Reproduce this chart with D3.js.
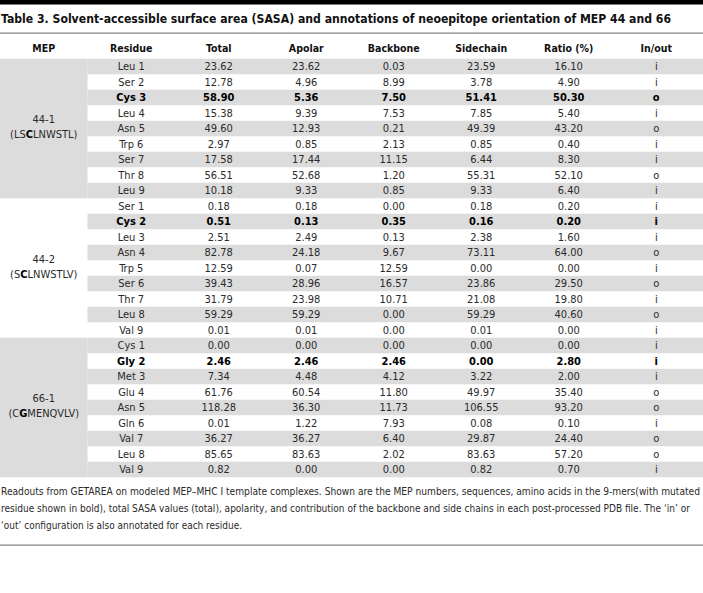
<!DOCTYPE html>
<html><head><meta charset="utf-8">
<script src="https://cdn.jsdelivr.net/npm/d3@7"></script>
<style>
html,body{margin:0;padding:0;background:#fff;}
svg{display:block;}
text{font-family:"Liberation Sans Narrow","DejaVu Sans Condensed","Roboto",sans-serif;}
</style></head>
<body>
<svg id="c" width="703" height="593"></svg>
<script>
const title = "Table 3. Solvent-accessible surface area (SASA) and annotations of neoepitope orientation of MEP 44 and 66";
const headers = ["MEP","Residue","Total","Apolar","Backbone","Sidechain","Ratio (%)","In/out"];
const groups = ["44-1","44-2","66-1"];
const sequences = ["LSCLNWSTL","SCLNWSTLV","CGMENQVLV"];
const mutatedIndex = [2,1,1];
const residues = [
  "Leu 1","Ser 2","Cys 3","Leu 4","Asn 5","Trp 6","Ser 7","Thr 8","Leu 9",
  "Ser 1","Cys 2","Leu 3","Asn 4","Trp 5","Ser 6","Thr 7","Leu 8","Val 9",
  "Cys 1","Gly 2","Met 3","Glu 4","Asn 5","Gln 6","Val 7","Leu 8","Val 9"];
const total = [23.62,12.78,58.90,15.38,49.60,2.97,17.58,56.51,10.18,
  0.18,0.51,2.51,82.78,12.59,39.43,31.79,59.29,0.01,
  0.00,2.46,7.34,61.76,118.28,0.01,36.27,85.65,0.82];
const apolar = [23.62,4.96,5.36,9.39,12.93,0.85,17.44,52.68,9.33,
  0.18,0.13,2.49,24.18,0.07,28.96,23.98,59.29,0.01,
  0.00,2.46,4.48,60.54,36.30,1.22,36.27,83.63,0.00];
const backbone = [0.03,8.99,7.50,7.53,0.21,2.13,11.15,1.20,0.85,
  0.00,0.35,0.13,9.67,12.59,16.57,10.71,0.00,0.00,
  0.00,2.46,4.12,11.80,11.73,7.93,6.40,2.02,0.00];
const sidechain = [23.59,3.78,51.41,7.85,49.39,0.85,6.44,55.31,9.33,
  0.18,0.16,2.38,73.11,0.00,23.86,21.08,59.29,0.01,
  0.00,0.00,3.22,49.97,106.55,0.08,29.87,83.63,0.82];
const ratio = [16.10,4.90,50.30,5.40,43.20,0.40,8.30,52.10,6.40,
  0.20,0.20,1.60,64.00,0.00,29.50,19.80,40.60,0.00,
  0.00,2.80,2.00,35.40,93.20,0.10,24.40,57.20,0.70];
const inout = ["i","i","o","i","o","i","i","o","i",
  "i","i","i","o","i","o","i","o","i",
  "i","i","i","o","o","i","o","o","i"];
const footnote = [
  "Readouts from GETAREA on modeled MEP\u2013MHC I template complexes. Shown are the MEP numbers, sequences, amino acids in the 9-mers(with mutated",
  "residue shown in bold), total SASA values (total), apolarity, and contribution of the backbone and side chains in each post-processed PDB file. The \u2018in\u2019 or",
  "\u2018out\u2019 configuration is also annotated for each residue."];
const footnoteWidths = [699, 689, 241];

const W = 703;
const svg = d3.select("#c");
const fmt = d3.format(".2f");
const perGroup = 9;
const nRows = residues.length;

const x = d3.scaleBand().domain(headers).range([0, 700]);
const y = d3.scaleBand().domain(d3.range(nRows)).range([58.75, 58.75 + 15.5*nRows]);
const gray = "#dcdcdc";
const txt = "#2a2a2a";

// top black bar
svg.append("rect").attr("x",0).attr("y",0).attr("width",W).attr("height",4.5).attr("fill","#000");
// title
svg.append("text").attr("x",1).attr("y",23).attr("font-size",12).attr("font-weight","bold")
  .attr("fill","#111").attr("textLength",670).attr("lengthAdjust","spacingAndGlyphs").text(title);
// rule under title
svg.append("rect").attr("x",0).attr("y",32.5).attr("width",W).attr("height",1.3).attr("fill","#8a8a8a");

// header
svg.append("g").selectAll("text").data(headers).join("text")
  .attr("x",d=>x(d)+x.bandwidth()/2).attr("y",48).attr("dy","0.35em")
  .attr("text-anchor","middle").attr("font-size",10.5).attr("font-weight","bold").attr("fill","#111")
  .text(d=>d);

// row backgrounds (from Residue column onward)
const rows = d3.range(nRows);
svg.append("g").selectAll("rect").data(rows.filter(i=>i%2===0)).join("rect")
  .attr("x",x("Residue")).attr("y",i=>y(i)).attr("width",W - x("Residue")).attr("height",y.bandwidth())
  .attr("fill",gray);

// MEP group cells
const gIdx = d3.range(groups.length);
svg.append("g").selectAll("rect").data(gIdx.filter(g=>g%2===0)).join("rect")
  .attr("x",0).attr("y",g=>y(g*perGroup)).attr("width",x("Residue"))
  .attr("height",y.bandwidth()*perGroup).attr("fill",gray);

const mep = svg.append("g").selectAll("g").data(gIdx).join("g")
  .attr("transform",g=>`translate(${x("MEP")+x.bandwidth()/2},${y(g*perGroup)+y.bandwidth()*perGroup/2})`);
mep.append("text").attr("y",-9).attr("dy","0.35em").attr("text-anchor","middle")
  .attr("font-size",11).attr("fill",txt).text(g=>groups[g]);
mep.append("text").attr("y",6).attr("dy","0.35em").attr("text-anchor","middle")
  .attr("font-size",11).attr("fill",txt)
  .each(function(g){
    const t = d3.select(this);
    const s = sequences[g];
    t.append("tspan").text("(" + s.slice(0,mutatedIndex[g]));
    t.append("tspan").attr("font-weight","bold").attr("fill","#000").text(s[mutatedIndex[g]]);
    t.append("tspan").text(s.slice(mutatedIndex[g]+1) + ")");
  });

// body cells
const cols = [
  ["Residue", i=>residues[i]],
  ["Total", i=>fmt(total[i])],
  ["Apolar", i=>fmt(apolar[i])],
  ["Backbone", i=>fmt(backbone[i])],
  ["Sidechain", i=>fmt(sidechain[i])],
  ["Ratio (%)", i=>fmt(ratio[i])],
  ["In/out", i=>inout[i]]
];
const isBold = i => (i % perGroup) === mutatedIndex[Math.floor(i/perGroup)];
const cells = [];
rows.forEach(i=>cols.forEach(([c,f])=>cells.push({i, c, t:f(i)})));
svg.append("g").selectAll("text").data(cells).join("text")
  .attr("x",d=>x(d.c)+x.bandwidth()/2).attr("y",d=>y(d.i)+y.bandwidth()/2).attr("dy","0.35em")
  .attr("text-anchor","middle").attr("font-size",11)
  .attr("font-weight",d=>isBold(d.i)?"bold":"normal")
  .attr("fill",d=>isBold(d.i)?"#000":txt)
  .text(d=>d.t);

// footnote
svg.append("g").selectAll("text").data(footnote).join("text")
  .attr("x",1).attr("y",(d,k)=>495 + k*17).attr("font-size",9.8).attr("fill",txt)
  .attr("textLength",(d,k)=>footnoteWidths[k]).attr("lengthAdjust","spacingAndGlyphs")
  .text(d=>d);

// bottom rule
svg.append("rect").attr("x",0).attr("y",544.5).attr("width",W).attr("height",1.3).attr("fill","#8a8a8a");
</script>
</body></html>
